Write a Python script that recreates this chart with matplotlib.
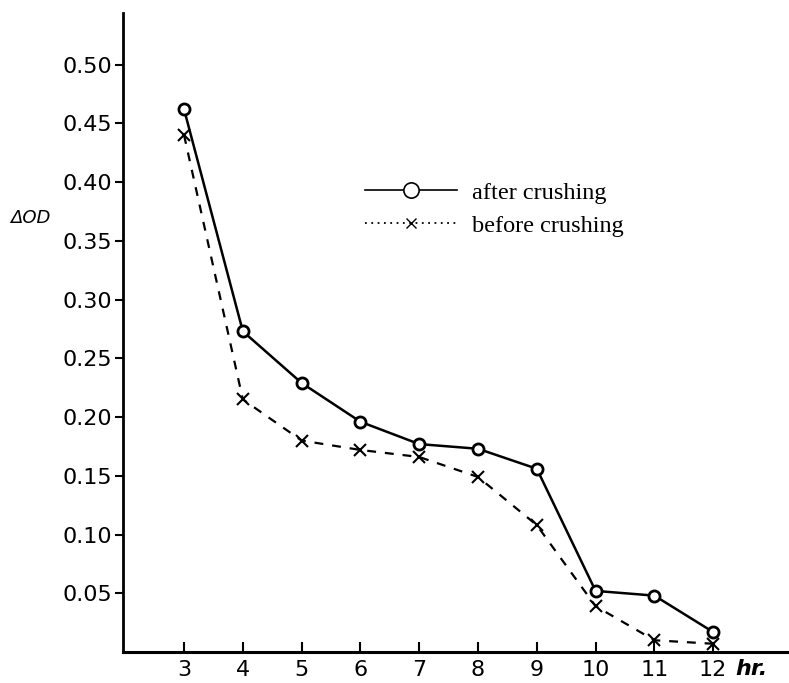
import matplotlib
matplotlib.use("Agg")
import matplotlib.pyplot as plt
from matplotlib.lines import Line2D

hours = [3, 4, 5, 6, 7, 8, 9, 10, 11, 12]
after_crushing = [0.462, 0.273, 0.229, 0.196, 0.177, 0.173, 0.156, 0.052, 0.048, 0.017]
before_crushing = [0.440, 0.215, 0.180, 0.172, 0.166, 0.149, 0.108, 0.039, 0.010, 0.007]
y_ticks = [0.05, 0.10, 0.15, 0.20, 0.25, 0.30, 0.35, 0.40, 0.45, 0.50]

fig = plt.figure(figsize=(7.89, 6.83), dpi=100)
ax = fig.add_axes([0.156, 0.0454, 0.844, 0.9356])

ax.plot(hours, after_crushing, color="black", linewidth=1.8, marker="o",
        markersize=8, markerfacecolor="white", markeredgewidth=2.0, zorder=3)
ax.plot(hours, before_crushing, color="black", linewidth=1.6, linestyle=(0, (4, 4)),
        marker="x", markersize=8, markeredgewidth=1.5, zorder=2)

ax.set_xlim(1.963, 13.29)
ax.set_ylim(0, 0.544)

ax.spines["top"].set_visible(False)
ax.spines["right"].set_visible(False)
ax.spines["left"].set_linewidth(2.0)
ax.spines["bottom"].set_linewidth(2.2)

ax.set_yticks(y_ticks)
ax.set_yticklabels([f"{v:.2f}" for v in y_ticks])
ax.set_xticks(hours)
ax.set_xticklabels([str(h) for h in hours])
ax.tick_params(axis="y", direction="out", length=6, width=1.5, labelsize=16, pad=2)
ax.tick_params(axis="x", direction="in", length=7, width=1.5, labelsize=16, pad=6)

ax.text(-0.170, 0.679, "ΔOD", transform=ax.transAxes, fontsize=13, style="italic",
        ha="left", va="center")
ax.text(0.919, -0.026, "hr.", transform=ax.transAxes, fontsize=16, style="italic",
        fontweight="bold", ha="left", va="center")

handles = [
    Line2D([], [], color="black", linewidth=1.2, marker="o", markersize=11,
           markerfacecolor="white", markeredgewidth=1.2),
    Line2D([], [], color="black", linewidth=1.3, linestyle=(0, (1, 2.5)),
           marker="x", markersize=7, markeredgewidth=1.0),
]
ax.legend(handles, ["after crushing", "before crushing"], loc="upper left",
          bbox_to_anchor=(0.33, 0.77), frameon=False, handlelength=3.8,
          handletextpad=0.6, labelspacing=0.45,
          prop={"family": "Liberation Serif", "size": 17.5})

fig.savefig("out.png", dpi=100, facecolor="white")
